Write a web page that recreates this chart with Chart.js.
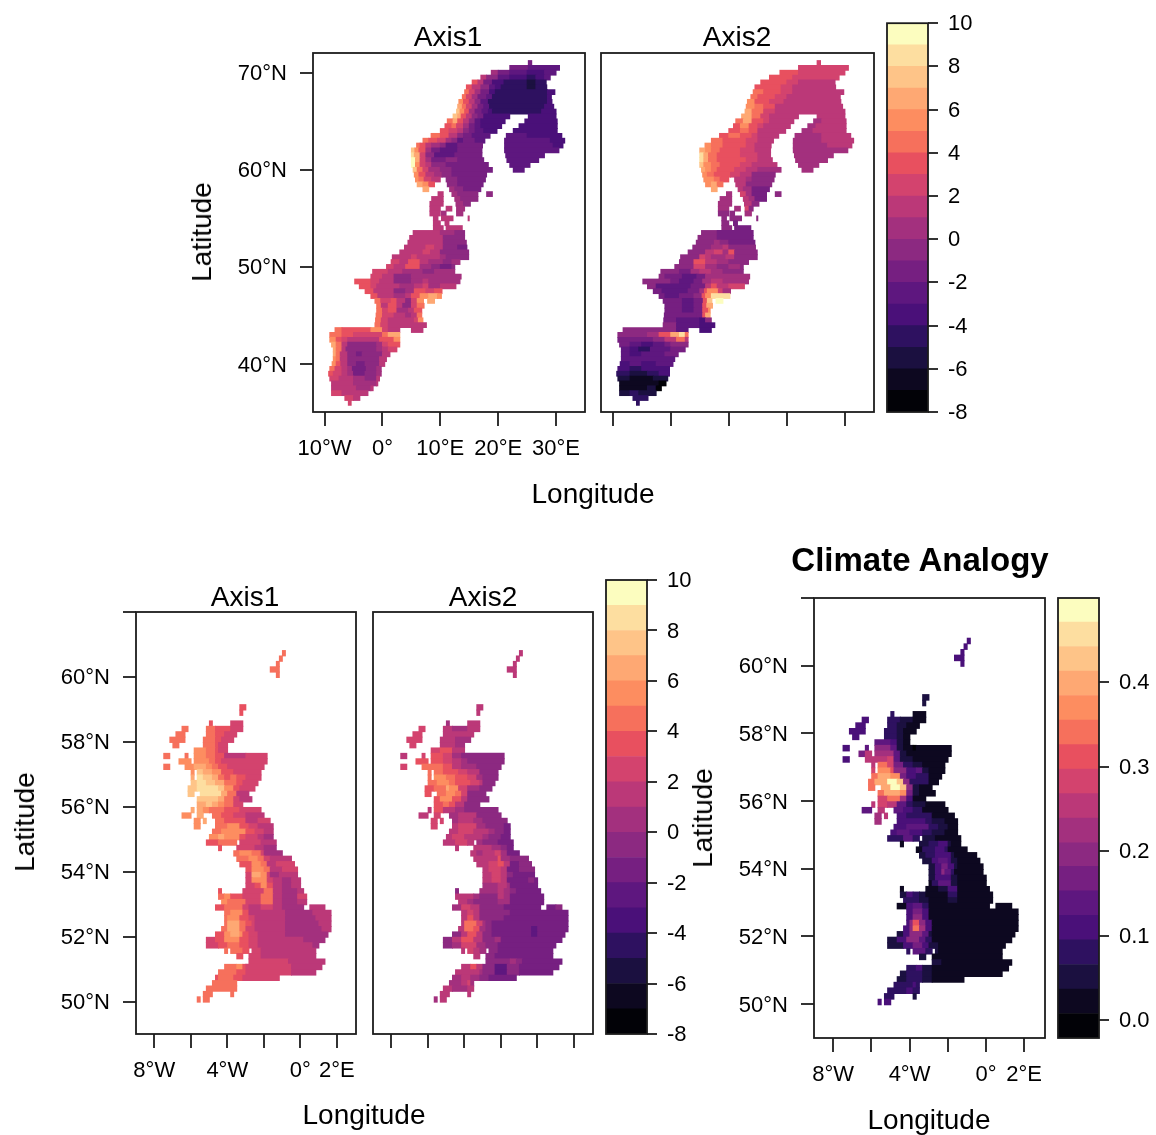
<!DOCTYPE html>
<html>
<head>
<meta charset="utf-8">
<title>Climate analogy maps</title>
<script src="https://cdn.jsdelivr.net/npm/chart.js@4"></script>
<style>
  html, body { margin: 0; background: #fff; }
  #page { position: relative; width: 1156px; height: 1135px; overflow: hidden; font-family: "Liberation Sans", Arial, sans-serif; color: #000; }
  canvas { position: absolute; left: 0; top: 0; }
  .lab { position: absolute; font-size: 28px; white-space: nowrap; transform: translate(-50%, -50%); }
  .rot { transform: translate(-50%, -50%) rotate(-90deg); }
  .bold { font-size: 33px; font-weight: bold; }
</style>
</head>
<body>
<div id="page"></div>
<script>
// shared colour key (18 steps, -8 to 10)
const bandColors = ["#020207", "#0d0820", "#1b1040", "#2e1160", "#4a1079", "#5e177f", "#761f81", "#8c2981", "#a3307e", "#bb3878", "#d3436e", "#e8505f", "#f6705c", "#fd8d60", "#fea873", "#fec488", "#fddea0", "#fcfdbf"];
const axisBreaks = [-8, -7, -6, -5, -4, -3, -2, -1, 0, 1, 2, 3, 4, 5, 6, 7, 8, 9, 10];
const axisBarTicks = [-8, -6, -4, -2, 0, 2, 4, 6, 8, 10];
const analogyBreaks = [-0.021, 0.008, 0.037, 0.066, 0.095, 0.124, 0.153, 0.182, 0.21, 0.239, 0.268, 0.297, 0.326, 0.355, 0.384, 0.413, 0.442, 0.471, 0.4994];
const analogyBarTicks = [0, 0.1, 0.2, 0.3, 0.4];

const europeLonTicks = [-10, 0, 10, 20, 30];
const europeLonLabels = ["10°W", "0°", "10°E", "20°E", "30°E"];
const europeLatTicks = [40, 50, 60, 70];
const europeLatLabels = ["40°N", "50°N", "60°N", "70°N"];
const ukLonTicks = [-8, -6, -4, -2, 0, 2];
const ukLonLabels = ["8°W", "", "4°W", "", "0°", "2°E"];
const ukLatTicks = [50, 52, 54, 56, 58, 60, 62];
const ukLatLabels = ["50°N", "52°N", "54°N", "56°N", "58°N", "60°N", ""];

// europe rows run north to south, each row: lon, value, lon, value, ... lon (null = no land)
const europeLats = [71, 70.5, 70, 69.5, 69, 68.5, 68, 67.5, 67, 66.5, 66, 65.5, 65, 64.5, 64, 63.5, 63, 62.5, 62, 61.5, 61, 60.5, 60, 59.5, 59, 58.5, 58, 57.5, 57, 56.5, 56, 55.5, 55, 54.5, 54, 53.5, 53, 52.5, 52, 51.5, 51, 50.5, 50, 49.5, 49, 48.5, 48, 47.5, 47, 46.5, 46, 45.5, 45, 44.5, 44, 43.5, 43, 42.5, 42, 41.5, 41, 40.5, 40, 39.5, 39, 38.5, 38, 37.5, 37, 36.5, 36];
const europeAxis1 = [
  [25.2,-2,25.8],
  [22,-2,25.2,-3,30.6],
  [18.8,0,20,-2,22,-3,25,-4,28,-3,30],
  [17,1,18,-1,20,-3,22,-4,25,-5,26.5,-4,28,-3,29],
  [15.5,3,16.5,1,17.5,-2,19,-4,21,-5,25,-6,26.5,-5,28.3],
  [14.5,3,15.5,1,17,-1,18.5,-3,19.5,-4,20.5,-5,25,-6,26.5,-5,28.4],
  [14.2,4,15,2,16,0,17,-2,18.5,-4,19.5,-5,28.5,-4,29.8],
  [13.8,4,14.5,2,15.5,0,16.5,-2,18,-3,19,-5,28.5,-4,29.2],
  [13.2,5,14,3,15,1,16,-1,17,-3,18.3,-5,28.5,-4,29.3],
  [13,6,13.8,4,14.5,2,15.5,0,16.5,-2,17.5,-3,18.5,-5,28,-4,29.6],
  [12.8,7,13.4,5,14.2,3,15,0,16,-2,17.2,-3,18.3,-4,19,-5,27.5,-4,30],
  [12.2,7,13,6,13.6,3,14.5,1,15.5,-1,16.5,-2,17.5,-4,22,null,25.2,-4,30],
  [11.2,4,12.2,6,13,3,14,1,15,-1,16,-3,17,-4,21.2,null,24.6,-4,30.2],
  [10.8,3,12,4,12.8,2,14,0,15,-2,16,-3,17,-4,20.6,null,23.6,-4,30.2],
  [10,3,11.5,2,13,1,14,-1,15,-2,16,-3,17.5,-4,19.8,null,22.6,-4,30.2],
  [8.4,4,10,3,11.5,1,13,-1,14,-2,15.5,-3,18.6,null,21.4,-3,25,-4,31],
  [7,4,8,3,9.5,2,11,0,12,-1,13,-3,14,-2,16,-3,17.7,null,21.1,-3,29,-4,31.5],
  [5.9,4,6.5,3,7.5,1,8.5,0,10,-1,11,-3,13,-2,17.3,null,21.1,-3,29.5,-4,31.2],
  [5,7,5.6,5,6.3,3,7.5,0,8.5,-2,10,-3,13,-2,17.2,null,21.1,-3,30.5],
  [5,8,5.5,6,6.5,2,7.5,-1,9,-3,12.5,-2,17.2,null,21.3,-3,28],
  [5,9,5.7,6,6.5,2,7.5,0,8.5,-2,11,-1,13,-2,17.5,null,21.5,-3,27],
  [5,9,5.7,5,6.5,2,7.5,1,8.5,-1,11,-2,18.3,null,22,-3,25.5],
  [5.3,7,6,4,7,2,8,0,10,-1,12,-2,19,null,22.6,-3,24.5],
  [5.5,5,6.3,3,7.5,1,9,0,10.3,-1,12,-2,18],
  [5.7,5,6.3,4,7.2,2,8.5,1,10,null,11,-1,13,-2,17.8],
  [6,6,7,5,8,3,9,null,11.2,-1,13,-2,17.4],
  [7,6,8,null,11.6,0,12.5,-1,14,-2,17],
  [9.6,1,10.5,null,12,0,13,-1,16.5,null,18,-1,19],
  [8.5,1,10.5,null,12.5,0,13.5,-1,16.5],
  [8.2,1,10.5,null,12.7,0,14,-1,15.2],
  [8.2,1,10,null,11,1,12,null,12.8,0,14.2],
  [8.2,1,10,null,10.2,0,11,null,12.8,0,13.9],
  [8.8,1,9.6,null,10.2,1,12.2,null,14.8,1,15],
  [8.8,1,10,null,10.8,1,11.5],
  [8.8,1,10.5,null,11,1,13.8],
  [5.3,1,10,0,12.5,-1,14.2],
  [4.7,1,10.5,-1,14.2],
  [4.4,1,10.5,-1,14.5],
  [3.8,1,7.5,2,9,1,10.5,-1,13,-2,14.6],
  [3,1,7,2,8.3,1,10,-1,14.9],
  [1.7,1,5,2,6,1,10,0,11,-1,14.9],
  [1.5,2,3,1,4.5,3,6.5,1,8,0,10.5,-1,12,0,13.4],
  [0.7,2,2,1,4,3,6.5,0,8.5,-1,10,-2,12,-1,12.5],
  [-1.7,2,1,1,3.5,0,7,-1,9,0,12.5],
  [-2,2,0,1,2,-1,5,0,13.6],
  [-4.8,3,-2,2,-0.5,1,2,-1,5,0,7,1,8,0,13.4],
  [-4,3,-2,2,-1,1,3,0,5.5,1,7,2,8,0,10,1,12.7],
  [-3,3,-1.5,1,2,-1,4,0,5.5,3,7.5,2,9,3,10.3],
  [-2,3,-0.8,1,2,0,4,1,5,3,6.5,5,8,6,9.5,5,10.2],
  [-1.3,4,-0.3,2,1.5,3,2.5,1,4,-1,5,2,6,5,7.1,null,7.8,6,9],
  [-1,4,-0.2,1,1,3,2.5,1,3.5,-1,5,2,6,4,7.2],
  [-1,4,0,2,1,3,2.5,0,4.5,1,5.5,3,6.8],
  [-1.1,4,0,2,2,1,4,0,5,1,6,4,6.8],
  [-1.2,4,-0.2,2,1,1,5.5,2,6.2,5,7],
  [-1.3,4,-0.3,2,1,1,7.6],
  [-8.2,4,-7,3,-2,5,0,2,1,1,3,null,5,1,7],
  [-9.1,4,-7,3,-5,2,0,4,1,6,3],
  [-9.1,5,-8,3,-7,2,-6,1,-0.5,3,2,5,3],
  [-8.8,6,-8,4,-7,1,-6,-1,-1,0,0,2,1,3,3],
  [-8.5,6,-8,4,-7,1,-6.3,-1,-1,0,0,1,1,2,2.5],
  [-8.5,6,-8,4,-7.3,1,-6,-1,-4.5,-2,-3.5,-1,0,1,1.3],
  [-8.5,5,-8,4,-7.3,1,-6,-1,-0.5,1,0.7],
  [-8.7,5,-8,3,-7.2,1,-6,-1,-4.5,-2,-3,-1,-0.5,1,0.4],
  [-9.1,4,-8.2,2,-7,1,-6,0,-5.2,-2,-2.8,-1,-1,0,-0.2],
  [-9.3,3,-8.5,2,-7,1,-6,0,-5,-2,-3,-1,-1,0,-0.2],
  [-9.1,2,-7.5,1,-5,0,-3,-1,-1,1,-0.5],
  [-8.8,1,-5,0,-1,1,-0.8],
  [-8.8,1,-4.5,0,-2,1,-1.6],
  [-8.8,2,-7,1,-2.5],
  [-6.5,2,-5,1,-3.9],
  [-5.9,2,-5.4]
];
const europeAxis2 = [
  [25.2,2,25.8],
  [22,2,30.6],
  [18.8,3,22,2,30],
  [17,3,21,2,29],
  [15.5,3,20,2,22,1,28.3],
  [14.5,3,19,2,21,1,28.4],
  [14.2,4,16,3,19,2,21,1,29.8],
  [13.8,4,15,3,18,2,20,1,29.2],
  [13.2,5,14.5,3,17,2,19.5,1,29.3],
  [13,5,14.5,4,16,3,18,1,29.6],
  [12.8,6,14,4,16,2,18,1,30],
  [12.2,6,14,4,15.5,2,17,1,22,null,25.2,1,30],
  [11.2,4,12.5,6,14,3,16,2,17,1,21.2,null,24.6,0,26,1,30.2],
  [10.8,3,12,5,13.5,3,15,2,16,1,20.6,null,23.6,0,25,1,30.2],
  [10,3,12,4,13.5,3,15,1,19.8,null,22.6,0,24.5,1,30.2],
  [8.4,3,10,4,12,3,14,2,15,1,18.6,null,21.4,0,26,1,31],
  [7,4,9,3,13,2,15,1,17.7,null,21.1,0,26,1,31.5],
  [5.9,5,7,4,9,3,13,2,14.5,1,17.3,null,21.1,0,27,1,31.2],
  [5,6,6,5,7,4,8.5,3,12,2,14.5,1,17.2,null,21.1,0,30.5],
  [5,8,5.7,6,6.5,4,8,3,12,2,15,1,17.2,null,21.3,0,28],
  [5,8,5.7,6,6.5,4,8,3,13,2,15,1,17.5,null,21.5,0,27],
  [5,7,5.7,5,7,4,8.5,3,12,2,14,1,18.3,null,22,0,25.5],
  [5.3,6,6,5,7,4,8,3,11,2,13,1,15,0,19,null,22.6,0,24.5],
  [5.5,5,6.3,4,7.5,3,10.3,2,12,1,14,-1,18],
  [5.7,5,7.5,4,8.5,3,10,null,11,1,13,0,14,-1,17.8],
  [6,5,7,6,8,4,9,null,11.2,1,13,-1,17.4],
  [7,6,8,null,11.6,1,12.5,0,14,-2,17],
  [9.6,0,10.5,null,12,2,13,0,14,-2,16.5,null,18,-1,19],
  [8.5,0,10.5,null,12.5,1,13.5,0,14.5,-2,16.5],
  [8.2,0,10.5,null,12.7,1,14,-1,15.2],
  [8.2,0,10,null,11,0,12,null,12.8,2,13.5,-1,14.2],
  [8.2,-1,10,null,10.2,-1,11,null,12.8,0,13.9],
  [8.8,-1,9.6,null,10.2,-1,12.2,null,14.8,-1,15],
  [8.8,-1,10,null,10.8,-2,11.5],
  [8.8,-1,10.5,null,11,-2,13.8],
  [5.3,-1,8,-2,14.2],
  [4.7,-1,8,-2,14.2],
  [4.4,-1,7.5,0,8.5,-1,10,-2,14.5],
  [3.8,-1,7,0,9,1,10,-1,14.6],
  [3,-1,6,1,7.5,2,9,0,10,3,11,-1,14.9],
  [1.7,-1,5,2,6,1,7,0,9.5,1,11,-1,14.9],
  [1.5,-1,4,3,6,1,8,0,10,-1,13.4],
  [0.7,-1,4,2,6,0,8,-1,10,0,12,-1,12.5],
  [-1.7,-1,1.5,-2,3.5,0,5,1,7,0,9,-1,12.5],
  [-2,-1,-1,-2,2,-3,4.5,-2,6,0,13.6],
  [-4.8,-1,-2,-1,0,-2,1.5,-3,4,-2,5.5,0,7,1,9,0,13.4],
  [-4,-1,-2.5,-3,3.5,-2,6,1,7,3,8,1,10,2,12.7],
  [-3,-2,-1.5,-3,3,-2,5,0,5.8,3,6.3,5,8.2,2,9,0,10.3],
  [-2,-2,-1,-3,1.5,-2,4,-1,5.4,3,6,5,7,8,10.2],
  [-1.3,-2,2,-3,4,-2,5.6,3,6.3,7,7.1,null,7.8,9,9],
  [-1,-2,2,-3,4,-2,5.5,3,6.2,6,7.2],
  [-1,-2,2,-3,4,-2,5.5,3,6.5,5,6.8],
  [-1.1,-2,4.5,-2,5.5,3,6,6,6.8],
  [-1.2,-2,1,-3,5,-4,6,-1,7],
  [-1.3,-1,1,-3,5,-4,7.6],
  [-8.2,-1,1,-3,3,null,5,-4,7],
  [-9.1,-1,-4,0,-2,3,0,6,1.5,8,2.5,4,3],
  [-9.1,-2,-3,-1,-1,1,1,4,2.5,1,3],
  [-8.8,-2,-7,-3,-5,-4,-3,-3,-1,-2,0,-1,3],
  [-8.5,-3,-7,-4,-5.5,-5,-3.5,-3,0,-2,2.5],
  [-8.5,-3,-7,-4,-5,-3,-1,-2,1.3],
  [-8.5,-3,0.7],
  [-8.7,-4,-7,-3,-5,-4,-2.5,-3,0.4],
  [-9.1,-4,-7,-5,-5,-4,-0.2],
  [-9.3,-5,-7,-6,-4,-5,-2,-4,-0.2],
  [-9.1,-6,-7,-7,-3,-6,-0.5],
  [-8.8,-7,-2,-8,-0.8],
  [-8.8,-7,-4,-6,-2.5,-8,-1.6],
  [-8.8,-6,-7,-5,-5.5,-6,-2.5],
  [-6.5,-5,-3.9],
  [-5.9,-5,-5.4]
];

// uk raster: 1/6 degree cells, rows north to south, each row: col, value, col, value, ... col
const ukNorth = 60.73;
const ukWest = -9.315;
const ukCell = 1 / 6;
const ukAxis1 = [
  [50,4,51],[49,4,50],[48,4,49],[46,4,49],[48,4,49],[],[],[],[],[],
  [36,3,38],[36,3,37],[],
  [26,3,27,null,33,2,37],
  [17,4,19,null,25,4,28,3,33,2,37],
  [15,4,18,null,25,4,28,3,31,2,35],
  [13,4,18,null,24,4,28,3,30,2,34],
  [14,4,16,null,24,4,28,3,29,2,32],
  [21,5,25,4,28,3,29,2,32],
  [11,4,13,null,18,4,19,null,21,5,25,4,28,3,31,1,38,2,45],
  [16,5,20,null,21,5,26,4,28,3,30,2,45],
  [11,4,13,null,18,5,21,6,25,5,27,4,29,3,32,2,44],
  [20,5,21,null,22,7,24,6,27,5,30,3,34,2,43],
  [20,6,21,null,22,8,24,7,27,6,29,4,31,3,33,4,35,3,38,2,43],
  [20,7,22,8,25,7,28,6,31,4,35,3,37,2,42],
  [19,7,22,8,29,7,31,5,34,3,36,2,41],
  [19,7,21,null,23,8,30,6,32,4,35,1,39],
  [22,7,29,6,31,4,34,2,36,1,40],
  [22,6,25,7,27,6,29,5,31,4,34,2,37],
  [20,6,21,null,22,6,24,5,26,4,31,3,36,2,43],
  [17,5,20,null,22,6,24,null,27,4,30,3,34,2,38,1,44],
  [21,5,23,null,24,6,25,null,28,4,31,3,38,1,42,2,46],
  [21,5,23,null,28,4,32,5,36,3,39,2,42,1,47],
  [27,4,30,5,38,3,41,2,44,1,47],
  [26,5,29,6,31,5,36,3,38,2,42,1,44,0,47],
  [25,3,29,4,35,null,36,2,43,1,48],
  [29,3,30,null,35,2,41,1,44,0,48],
  [34,4,36,5,40,4,43,2,44,0,50],
  [35,4,39,5,42,4,44,2,46,1,53],
  [36,3,40,5,43,4,45,1,48,2,54],
  [38,3,40,5,44,4,46,1,50,2,55],
  [38,2,40,6,43,5,45,2,46,0,49,1,55],
  [38,2,40,5,45,2,47,1,50,0,53,1,56],
  [38,2,41,3,43,5,45,3,47,1,50,0,53,1,56],
  [29,3,30,null,37,2,44,4,47,1,50,0,55,1,57],
  [29,4,31,5,33,3,37,2,43,4,47,1,50,0,55,2,58],
  [30,5,32,4,38,2,43,4,47,1,50,0,55,1,58],
  [28,3,31,4,37,2,39,1,43,2,47,1,50,0,57,null,59,1,64],
  [31,4,33,5,37,3,39,1,51,0,60,1,66],
  [31,4,32,5,36,3,39,2,41,1,51,0,61,1,66],
  [31,4,32,6,36,4,38,3,40,2,41,1,51,0,62,1,66],
  [30,4,32,6,36,4,38,2,41,1,51,0,63,1,66],
  [28,3,31,5,33,6,36,5,37,3,39,2,42,1,51,0,65],
  [25,2,28,3,31,5,36,3,39,2,42,1,57,0,64],
  [25,2,29,3,32,4,36,3,39,2,42,1,60,0,62],
  [31,4,32,null,33,4,37,3,39,null,40,2,43,1,61],
  [35,3,37,null,39,2,43,1,61],
  [39,2,52,1,64],
  [31,4,35,5,37,3,38,2,53,1,63],
  [29,4,35,3,38,2,53,1,61],
  [28,3,29,4,34,3,37,2,49],
  [27,4,35],
  [25,4,35],
  [24,4,27,null,33,4,34],
  [22,4,23,null,24,4,26]
];
const ukAxis2 = [
  [50,1,51],[49,1,50],[48,1,49],[46,1,49],[48,1,49],[],[],[],[],[],
  [36,1,38],[36,1,37],[],
  [26,0,27,null,33,1,37],
  [17,2,19,null,25,1,28,0,33,1,37],
  [15,2,18,null,25,1,35],
  [13,2,18,null,24,1,29,0,34],
  [14,2,16,null,24,1,29,0,32],
  [21,2,24,3,28,1,32],
  [11,1,13,null,18,2,19,null,21,3,25,2,28,0,31,-1,45],
  [16,3,20,null,21,3,25,2,28,1,31,0,33,-1,45],
  [11,2,13,null,18,4,25,3,28,1,31,0,36,-1,44],
  [20,4,21,null,22,4,25,3,30,2,33,1,37,-1,43],
  [20,4,21,null,22,5,26,4,29,3,33,2,36,0,38,-1,43],
  [20,4,23,5,27,4,29,3,34,2,37,1,38,-1,42],
  [19,3,22,4,26,6,27,5,30,2,33,0,37,-1,41],
  [19,3,21,null,23,4,26,5,29,4,31,2,33,-1,39],
  [22,3,24,5,28,3,31,1,33,-1,40],
  [22,3,25,4,27,3,29,1,32,-1,37],
  [20,1,21,null,22,3,25,1,29,0,32,-1,43],
  [17,1,20,null,22,2,24,null,27,0,30,1,36,-1,44],
  [21,2,23,null,24,2,25,null,28,0,30,1,35,0,38,-1,46],
  [21,2,23,null,28,1,30,2,36,0,39,-1,45,-2,47],
  [27,1,30,2,35,1,40,0,42,-1,45,-2,47],
  [26,1,28,2,32,1,38,0,40,-1,44,-2,47],
  [25,1,29,2,33,1,35,null,36,0,38,-1,43,-2,48],
  [29,1,30,null,35,1,41,0,44,-1,46,-2,48],
  [34,1,36,0,38,1,42,2,44,0,46,-2,50],
  [35,1,43,3,44,0,47,-1,53],
  [36,1,40,2,43,3,45,1,47,-2,50,-1,54],
  [38,1,40,2,44,1,46,-2,50,-1,55],
  [38,1,41,2,44,1,46,-1,48,-2,55],
  [38,1,41,2,44,1,46,-2,53,-1,55,-2,56],
  [38,0,43,1,46,0,47,-2,56],
  [29,-1,30,null,37,0,43,1,45,0,47,-1,49,-2,57],
  [29,1,35,0,37,-1,43,1,45,0,47,-2,58],
  [30,1,33,0,35,-1,43,0,47,-2,58],
  [28,0,31,2,34,1,37,-1,45,-2,57,null,59,-2,62,-1,64],
  [31,1,33,2,35,1,37,-1,47,-2,66],
  [31,1,33,3,35,1,37,-1,45,-2,66],
  [31,1,32,4,36,2,38,0,39,-1,41,-2,66],
  [30,1,32,4,35,3,37,0,39,-1,41,-2,54,-3,56,-2,66],
  [28,-1,31,1,33,3,36,1,38,-1,41,-2,54,-3,56,-2,65],
  [25,-1,28,1,31,3,35,1,38,-1,42,0,44,-2,64],
  [25,-1,28,0,31,2,36,0,39,-1,43,-2,62],
  [31,1,32,null,33,2,35,1,37,0,39,null,40,-1,43,-2,61],
  [35,1,37,null,39,-1,42,-2,61],
  [39,-1,47,0,49,-1,51,-2,64],
  [31,1,34,3,36,1,38,-1,42,-3,46,-1,50,-2,63],
  [29,1,35,1,37,0,38,-1,42,-3,46,-1,50,-2,61],
  [28,0,31,1,34,0,37,-1,40,-2,49],
  [27,0,31,1,33,2,34,0,35],
  [25,1,28,0,33,1,35],
  [24,1,27,null,33,1,34],
  [22,0,23,null,24,1,26]
];
const ukAnalogy = [
  [50,.11,51],[49,.11,50],[48,.11,49],[46,.11,49],[48,.11,49],[],[],[],[],[],
  [36,.05,38],[36,.05,37],[],
  [26,.08,27,null,33,.02,37],
  [17,.11,19,null,25,.08,29,.05,33,.02,37],
  [15,.11,18,null,25,.08,28,.05,31,.02,35],
  [13,.11,18,null,24,.08,28,.05,30,.02,34],
  [14,.11,16,null,24,.08,28,.05,30,.02,32],
  [21,.14,26,.11,28,.05,30,.02,32],
  [11,.11,13,null,18,.14,19,null,21,.2,26,.14,28,.05,30,.02,33,0,34,.02,45],
  [16,.17,18,.25,20,null,21,.22,27,.14,29,.05,31,.02,45],
  [11,.11,13,null,18,.25,25,.28,27,.14,29,.05,33,.02,44],
  [20,.25,21,null,22,.34,25,.28,27,.17,30,.08,33,.05,36,.02,43],
  [20,.28,21,null,22,.37,26,.31,27,.2,31,.11,34,.14,36,.05,38,.02,43],
  [20,.34,22,.4,26,.37,29,.17,31,.11,34,.08,38,.02,42],
  [19,.34,21,.4,25,.48,28,.42,30,.2,32,.08,38,.02,41],
  [19,.34,21,null,23,.4,26,.48,29,.42,31,.2,33,.05,35,.02,39],
  [22,.34,24,.4,29,.37,31,.17,33,.05,35,.02,40],
  [22,.28,25,.34,29,.22,31,.11,33,.02,37],
  [20,.25,21,null,22,.28,25,.25,28,.14,31,.08,33,.05,37,.02,43],
  [17,.14,20,null,22,.25,24,null,27,.14,30,.11,33,.08,36,.02,44],
  [21,.22,23,null,24,.25,25,null,28,.11,31,.08,39,.02,46],
  [21,.22,23,null,28,.11,37,.08,39,.05,43,.02,47],
  [27,.11,31,.14,38,.08,41,.05,44,.02,47],
  [26,.11,28,.14,32,.11,36,.08,39,.05,43,.02,47],
  [25,.08,30,.14,33,.08,35,null,36,.05,40,.02,48],
  [29,.02,30,null,35,.05,38,.08,41,.11,44,.05,45,.02,48],
  [34,.02,36,.08,40,.11,43,.08,44,.02,50],
  [35,.05,37,.08,40,.11,45,.05,46,.02,53],
  [36,.05,39,.11,41,.14,44,.11,45,.05,47,.02,54],
  [38,.05,40,.11,42,.17,44,.11,46,.05,47,.02,55],
  [38,.05,40,.11,42,.2,43,.14,45,.08,46,.02,55],
  [38,.05,40,.11,45,.05,47,.02,56],
  [38,.02,39,.08,41,.14,45,.05,47,.02,56],
  [29,.02,30,null,37,.02,41,.05,44,.11,47,.02,57],
  [29,.05,31,.11,33,.08,35,.05,37,.02,44,.08,47,.02,58],
  [30,.08,35,.05,38,.02,44,.05,47,.02,58],
  [28,.02,31,.11,33,.14,36,.08,38,.02,57,null,59,.02,64],
  [31,.11,33,.17,36,.11,38,.02,66],
  [31,.11,33,.2,36,.11,38,.02,66],
  [31,.11,32,.2,33,.31,35,.2,37,.11,39,.02,66],
  [30,.11,32,.2,33,.34,35,.22,37,.11,39,.02,66],
  [28,.05,30,.11,32,.2,36,.14,38,.05,39,.02,65],
  [25,.05,28,.11,31,.2,35,.14,37,.08,39,.02,64],
  [25,.05,30,.11,33,.17,36,.11,38,.05,41,.02,62],
  [31,.08,32,null,33,.14,37,.08,39,null,40,.05,41,.02,61],
  [35,.05,37,null,39,.02,61],
  [39,.05,42,.02,64],
  [31,.08,34,.11,36,.05,39,.02,63],
  [29,.05,31,.08,36,.05,39,.02,61],
  [28,.05,31,.08,36,.05,39,.02,49],
  [27,.08,33,.11,34,.08,35],
  [25,.08,31,.11,33,.08,35],
  [24,.08,27,null,33,.05,34],
  [22,.11,23,null,24,.11,26]
];

const page = document.getElementById("page");
const inkColor = "#1c1c1c";
const font = { family: '"Liberation Sans", Arial, sans-serif', size: 22 };
const yAxisWidth = 90;

function addLabel(text, x, y, cls) {
  const d = document.createElement("div");
  d.className = "lab " + (cls || "");
  d.textContent = text;
  d.style.left = x + "px";
  d.style.top = y + "px";
  page.appendChild(d);
}

function addCanvas() {
  const c = document.createElement("canvas");
  c.width = 1156;
  c.height = 1135;
  page.appendChild(c);
  return c;
}

// find the colour step a value falls in
function colorFor(v, breaks) {
  let i = 0;
  while (i < bandColors.length - 1 && v >= breaks[i + 1]) i++;
  return bandColors[i];
}

function rowsToBars(rows, latOf, lonOf, breaks) {
  const bars = [];
  const colors = [];
  rows.forEach((row, r) => {
    for (let i = 1; i < row.length; i += 2) {
      if (row[i] === null) continue;
      bars.push({ x: [lonOf(row[i - 1]), lonOf(row[i + 1])], y: latOf(r) });
      colors.push(colorFor(row[i], breaks));
    }
  });
  return { bars, colors };
}

const framePlugin = {
  id: "frame",
  afterDraw(chart) {
    const a = chart.chartArea;
    const ctx = chart.ctx;
    ctx.save();
    ctx.strokeStyle = inkColor;
    ctx.lineWidth = 1.8;
    ctx.strokeRect(a.left, a.top, a.right - a.left, a.bottom - a.top);
    ctx.restore();
  }
};

function tickAxis(ticks, labels, length, padding, labelOffset, extra) {
  return Object.assign({
    type: "linear",
    offset: false,
    afterBuildTicks: (s) => { s.ticks = ticks.map((v) => ({ value: v })); },
    border: { display: false },
    // lineWidth 0: bars that start at a tick value would otherwise get nudged by half a grid line
    grid: { display: true, offset: false, lineWidth: 0, drawOnChartArea: false, drawTicks: true, tickLength: length, tickColor: inkColor, tickWidth: 1.8 },
    ticks: {
      color: "#000",
      font,
      padding,
      labelOffset,
      autoSkip: false,
      maxRotation: 0,
      callback: (v) => labels ? (labels[ticks.indexOf(v)] || "") : ""
    }
  }, extra);
}

function drawMap(box, raster, range, lonTicks, lonLabels, latTicks, latLabels, rowStep) {
  const plotH = box.bottom - box.top;
  const thickness = rowStep / (range.latMax - range.latMin) * plotH;
  const yScale = latTicks
    ? tickAxis(latTicks, latLabels, 13, 13, 1.5, { min: range.latMin, max: range.latMax, afterFit: (s) => { s.width = yAxisWidth; } })
    : { type: "linear", display: false, offset: false, min: range.latMin, max: range.latMax };
  new Chart(addCanvas(), {
    type: "bar",
    data: {
      datasets: [{
        data: raster.bars,
        backgroundColor: raster.colors,
        borderWidth: 0,
        inflateAmount: 0.45,
        barThickness: thickness
      }]
    },
    options: {
      indexAxis: "y",
      responsive: false,
      animation: false,
      events: [],
      layout: {
        padding: {
          left: latTicks ? box.left - yAxisWidth : box.left,
          right: 1156 - box.right,
          top: box.top,
          bottom: 1135 - box.bottom - 50
        }
      },
      plugins: { legend: { display: false }, tooltip: { enabled: false }, title: { display: false } },
      scales: {
        x: tickAxis(lonTicks, lonLabels, 14, 10, 0, { min: range.lonMin, max: range.lonMax, afterFit: (s) => { s.height = 50; } }),
        y: yScale
      }
    },
    plugins: [framePlugin]
  });
}

function drawColorBar(box, breaks, ticks, tickText) {
  const datasets = bandColors.map((color, i) => ({
    data: [[breaks[i], breaks[i + 1]]],
    backgroundColor: color,
    borderWidth: 0,
    inflateAmount: 0.3,
    barPercentage: 1,
    categoryPercentage: 1,
    grouped: false
  }));
  new Chart(addCanvas(), {
    type: "bar",
    data: { labels: ["key"], datasets },
    options: {
      responsive: false,
      animation: false,
      events: [],
      layout: { padding: { left: box.left, right: 1156 - box.right - 60, top: box.top, bottom: 1135 - box.bottom } },
      plugins: { legend: { display: false }, tooltip: { enabled: false } },
      scales: {
        x: { display: false },
        y: tickAxis(ticks, ticks.map(tickText), 10, 10, 1, {
          position: "right",
          min: breaks[0],
          max: breaks[breaks.length - 1],
          afterFit: (s) => { s.width = 60; }
        })
      }
    },
    plugins: [framePlugin]
  });
}

const europeRange = { lonMin: -12, lonMax: 35, latMin: 35.06, latMax: 72.03 };
const ukRange = { lonMin: -9, lonMax: 3.05, latMin: 49, latMax: 62 };
const analogyRange = { lonMin: -9, lonMax: 3.09, latMin: 49, latMax: 62 };

const europeLat = (r) => europeLats[r];
const sameLon = (v) => v;
const ukLat = (r) => ukNorth - r * ukCell;
const ukLon = (c) => ukWest + c * ukCell;

drawMap({ left: 313, right: 585, top: 53, bottom: 412 }, rowsToBars(europeAxis1, europeLat, sameLon, axisBreaks), europeRange, europeLonTicks, europeLonLabels, europeLatTicks, europeLatLabels, 0.5);
drawMap({ left: 601, right: 874, top: 53, bottom: 412 }, rowsToBars(europeAxis2, europeLat, sameLon, axisBreaks), europeRange, europeLonTicks, null, null, null, 0.5);
drawColorBar({ left: 887, right: 928, top: 20, bottom: 412 }, axisBreaks, axisBarTicks, String);

drawMap({ left: 136, right: 356, top: 612, bottom: 1034 }, rowsToBars(ukAxis1, ukLat, ukLon, axisBreaks), ukRange, ukLonTicks, ukLonLabels, ukLatTicks, ukLatLabels, ukCell);
drawMap({ left: 373, right: 593, top: 612, bottom: 1034 }, rowsToBars(ukAxis2, ukLat, ukLon, axisBreaks), ukRange, ukLonTicks, null, null, null, ukCell);
drawColorBar({ left: 606, right: 647, top: 580, bottom: 1034 }, axisBreaks, axisBarTicks, String);

drawMap({ left: 814, right: 1045, top: 598, bottom: 1038 }, rowsToBars(ukAnalogy, ukLat, ukLon, analogyBreaks), analogyRange, ukLonTicks, ukLonLabels, ukLatTicks, ukLatLabels, ukCell);
drawColorBar({ left: 1058, right: 1099, top: 598, bottom: 1038 }, analogyBreaks, analogyBarTicks, (v) => v.toFixed(1));

addLabel("Axis1", 448, 37);
addLabel("Axis2", 737, 37);
addLabel("Latitude", 202, 232, "rot");
addLabel("Longitude", 593, 494);
addLabel("Axis1", 245, 597);
addLabel("Axis2", 483, 597);
addLabel("Latitude", 25, 822, "rot");
addLabel("Longitude", 364, 1115);
addLabel("Climate Analogy", 920, 560, "bold");
addLabel("Latitude", 703, 818, "rot");
addLabel("Longitude", 929, 1120);
</script>
</body>
</html>
